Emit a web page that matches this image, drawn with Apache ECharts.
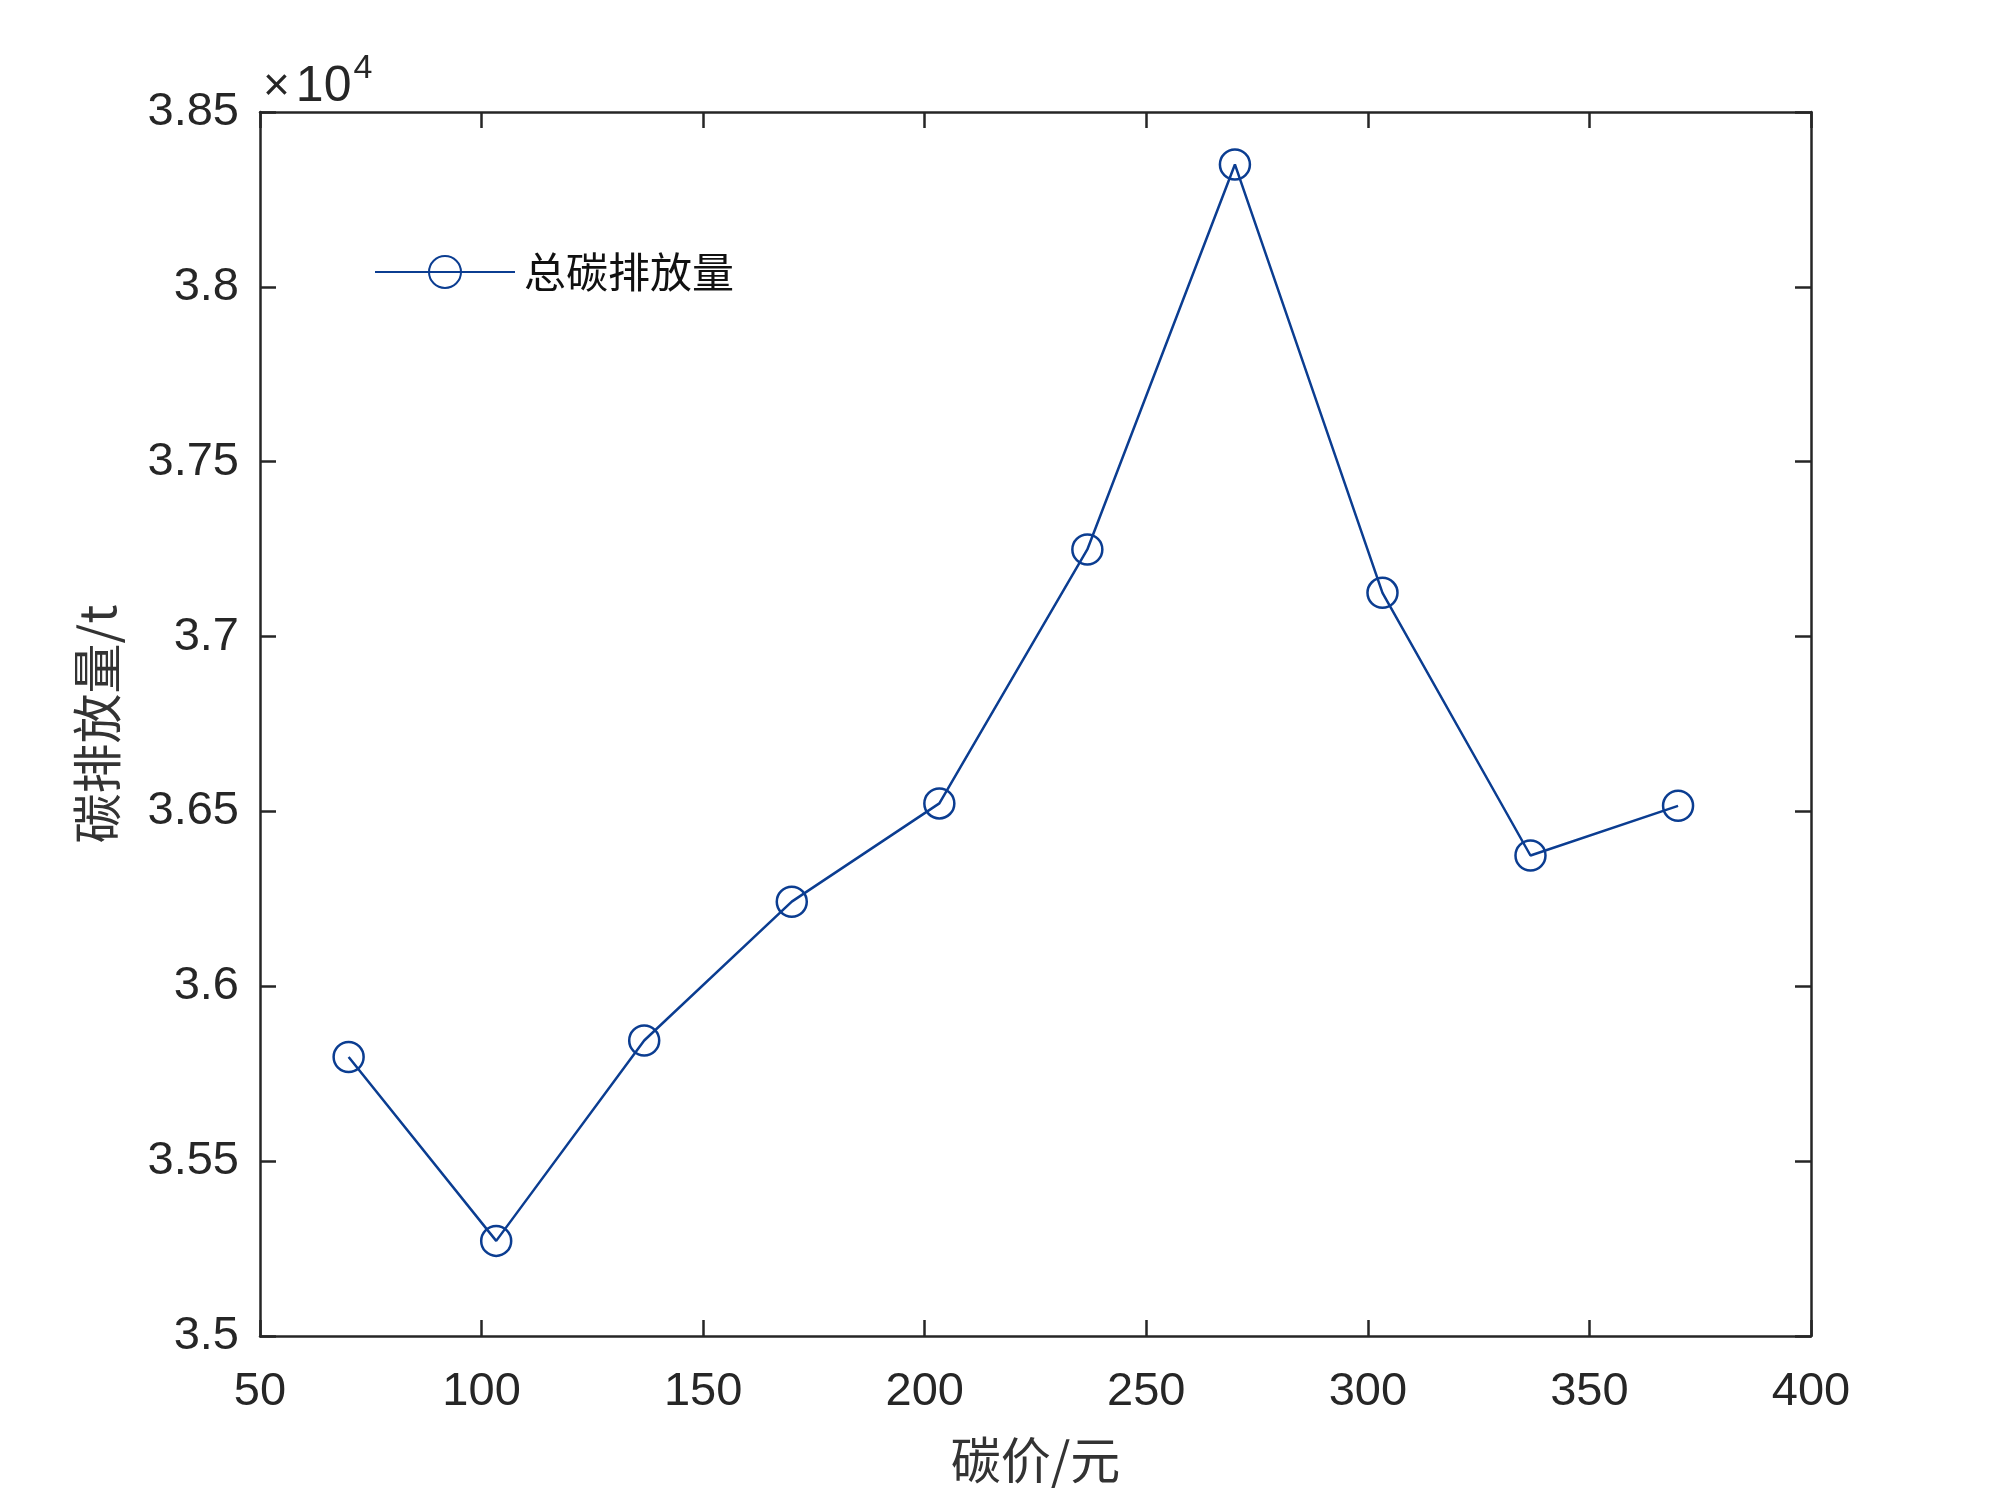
<!DOCTYPE html>
<html>
<head>
<meta charset="utf-8">
<script src="https://cdn.jsdelivr.net/npm/echarts@6/dist/echarts.min.js"></script>
<style>
  html, body { margin: 0; padding: 0; background: #fff; }
  #chart { width: 2000px; height: 1500px; }
</style>
</head>
<body>
<div id="chart"></div>
<script>
// carbon price (yuan) vs total emission (t)
var prices = [70, 103.3, 136.7, 170, 203.3, 236.7, 270, 303.3, 336.7, 370];
var emissions = [35798, 35272, 35845, 36242, 36523, 37249, 38350, 37125, 36374, 36516];
var seriesName = '总碳排放量';

var AXIS_COLOR = '#262626';
var LINE_COLOR = '#0b3d91';
var sans = 'Liberation Sans, Arial, sans-serif';
var cjk = 'Noto Sans CJK SC, sans-serif';

var chart = echarts.init(document.getElementById('chart'), null, { renderer: 'canvas' });

var points = prices.map(function (p, i) { return [p, emissions[i]]; });

function mirrorAxis(base) {
  return Object.assign({
    axisLine: { show: true, onZero: false, lineStyle: { color: AXIS_COLOR, width: 2.5 } },
    axisTick: { show: true, inside: true, length: 16, lineStyle: { color: AXIS_COLOR, width: 2.5 } },
    axisLabel: { show: false },
    splitLine: { show: false }
  }, base);
}

chart.setOption({
  backgroundColor: '#fff',
  animation: false,
  grid: { left: 260, right: 189, top: 112, bottom: 164, containLabel: false },
  graphic: [{
    type: 'text',
    left: 263,
    top: 52,
    style: {
      text: '{x|×}{b|10}{s|4}',
      rich: {
        x: { fontFamily: sans, fontSize: 46, fill: AXIS_COLOR, padding: [10, 6, 0, 0] },
        b: { fontFamily: sans, fontSize: 50, fill: AXIS_COLOR, padding: [10, 2, 0, 0] },
        s: { fontFamily: sans, fontSize: 34, fill: AXIS_COLOR, verticalAlign: 'top', padding: [0, 0, 24, 0] }
      }
    }
  }],
  legend: {
    left: 369,
    top: 246,
    itemWidth: 140,
    itemHeight: 40,
    itemGap: 10,
    textStyle: { fontFamily: cjk, fontSize: 42, color: '#111', padding: [0, 0, 0, 4] },
    data: [seriesName]
  },
  xAxis: [
    mirrorAxis({
      type: 'value', min: 50, max: 400, interval: 50, position: 'bottom',
      name: '碳价/元', nameLocation: 'middle', nameGap: 99,
      nameTextStyle: { fontFamily: cjk, fontSize: 50, color: '#333' },
      axisLabel: { show: true, fontFamily: sans, fontSize: 47, color: AXIS_COLOR, margin: 33 }
    }),
    mirrorAxis({ type: 'value', min: 50, max: 400, interval: 50, position: 'top' })
  ],
  yAxis: [
    mirrorAxis({
      type: 'value', min: 35000, max: 38500, interval: 500, position: 'left',
      name: '碳排放量/t', nameLocation: 'middle', nameGap: 138, nameRotate: 90,
      nameTextStyle: { fontFamily: cjk, fontSize: 50, color: '#333' },
      axisLabel: {
        show: true, fontFamily: sans, fontSize: 47, color: AXIS_COLOR, margin: 21,
        formatter: function (v) { return String(+(v / 10000).toFixed(3)); }
      }
    }),
    mirrorAxis({ type: 'value', min: 35000, max: 38500, interval: 500, position: 'right' })
  ],
  series: [{
    name: seriesName,
    type: 'line',
    xAxisIndex: 0,
    yAxisIndex: 0,
    data: points,
    symbol: 'circle',
    symbolSize: 30,
    showAllSymbol: true,
    lineStyle: { color: LINE_COLOR, width: 2.5 },
    itemStyle: { color: 'rgba(255,255,255,0)', borderColor: LINE_COLOR, borderWidth: 2.5 }
  }]
});
</script>
</body>
</html>
